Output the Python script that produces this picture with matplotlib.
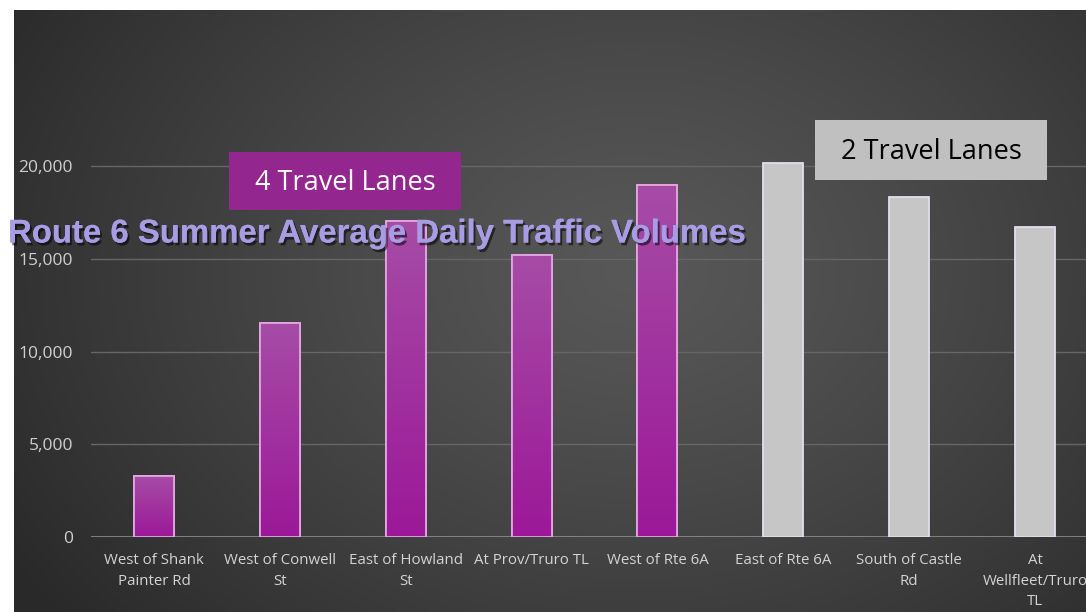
import numpy as np
import matplotlib
matplotlib.use("Agg")
import matplotlib.pyplot as plt
from matplotlib.patches import Rectangle
import matplotlib.patheffects as pe

categories = ["West of Shank\nPainter Rd", "West of Conwell\nSt", "East of Howland\nSt",
              "At Prov/Truro TL", "West of Rte 6A", "East of Rte 6A",
              "South of Castle\nRd", "At\nWellfleet/Truro\nTL"]
volumes = [3270, 11530, 17050, 15200, 18980, 20180, 18340, 16720]
lanes = [4, 4, 4, 4, 4, 2, 2, 2]
yticks = [0, 5000, 10000, 15000, 20000]
ytick_labels = ["0", "5,000", "10,000", "15,000", "20,000"]
title = "Route 6 Summer Average Daily Traffic Volumes"

W, H = 1086, 612
fig = plt.figure(figsize=(W / 100, H / 100), dpi=100)
fig.patch.set_facecolor("white")

# background gradient panel
bg = fig.add_axes([14 / W, 0, 1 - 14 / W, (H - 10) / H])
bg.set_axis_off()
yy, xx = np.mgrid[0:602, 0:1072]
r = np.sqrt(((xx - 620) / 740.0) ** 2 + ((yy - 260) / 560.0) ** 2)
r = np.clip(r, 0, 1)
v = (0x58 - (0x58 - 0x29) * r ** 1.2) / 255.0
img = np.dstack([v, v, v])
bg.imshow(img, aspect="auto", extent=[0, 1, 0, 1], origin="upper")
bg.set_xlim(0, 1)
bg.set_ylim(0, 1)

font = "Open Sans"

# main axes
x0_px, x1_px = 91, 1098
y0_px = 536.7
ymax = 22000
px_per = 18.52 / 1000
ax = fig.add_axes([x0_px / W, (H - y0_px) / H, (x1_px - x0_px) / W, ymax * px_per / H])
ax.patch.set_alpha(0)
x = np.arange(len(categories))
for s in ax.spines.values():
    s.set_visible(False)
ax.set_yticks(yticks)
ax.set_yticklabels(ytick_labels, fontsize=12.5, color="#cfcfcf", fontname=font)
ax.tick_params(axis="y", length=0, pad=13)
ax.set_xticks(x)
ax.set_xticklabels(categories, fontsize=10.8, color="#d4d4d4", fontname=font, linespacing=1.5)
ax.tick_params(axis="x", length=0, pad=12)
for t in yticks[1:]:
    ax.axhline(t, color="#666666", lw=1, zorder=1)
ax.axhline(0, color="#8e8e8e", lw=1.2, zorder=1)

colors = ["#9c1f97" if l == 4 else "#c6c6c6" for l in lanes]
edges = ["#e2a6e0" if l == 4 else "#e6dcef" for l in lanes]
bars = ax.bar(x, volumes, width=40 / 125.9, color=colors, edgecolor=edges, linewidth=1.3, zorder=3)

# purple gradient inside 4-lane bars
grad = np.linspace(0, 1, 256)[:, None]
top = np.array([0xa6, 0x4c, 0xa6]) / 255
bot = np.array([0x9c, 0x18, 0x98]) / 255
gimg = top[None, None, :] * (1 - grad[:, :, None]) + bot[None, None, :] * grad[:, :, None]
for b, l in zip(bars, lanes):
    if l == 4:
        bx, by = b.get_x(), b.get_y()
        bw, bh = b.get_width(), b.get_height()
        im = ax.imshow(gimg, extent=[bx, bx + bw, by, by + bh], aspect="auto", zorder=3.5, origin="upper")
        im.set_clip_path(b)
        ax.add_patch(Rectangle((bx, by), bw, bh, fill=False, edgecolor="#e2a6e0", lw=1.3, zorder=4))
ax.set_xlim(-0.5, len(categories) - 0.5)
ax.set_ylim(0, ymax)

# lane boxes (figure pixel coords)
def box(x0, y0, x1, y1, fc, tc, text):
    fig.patches.append(Rectangle((x0 / W, 1 - y1 / H), (x1 - x0) / W, (y1 - y0) / H,
                                 transform=fig.transFigure, facecolor=fc, edgecolor="none", zorder=5))
    fig.text((x0 + x1) / 2 / W, 1 - ((y0 + y1) / 2 + 2) / H, text, ha="center", va="center",
             fontsize=19.5, color=tc, fontname=font, zorder=6)

box(229, 152, 461, 210, "#93278f", "white", "4 Travel Lanes")
box(815, 120, 1047, 180, "#c0c0c0", "black", "2 Travel Lanes")

fig.text(8 / W, 1 - 234 / H, title, ha="left", va="center", fontsize=23.7,
         fontweight="bold", fontname="Liberation Sans", color="#a89ce4", zorder=7,
         path_effects=[pe.withSimplePatchShadow(offset=(1.5, -2), shadow_rgbFace="black", alpha=0.55),
                       pe.Normal()])

fig.savefig("out.png", dpi=100)
